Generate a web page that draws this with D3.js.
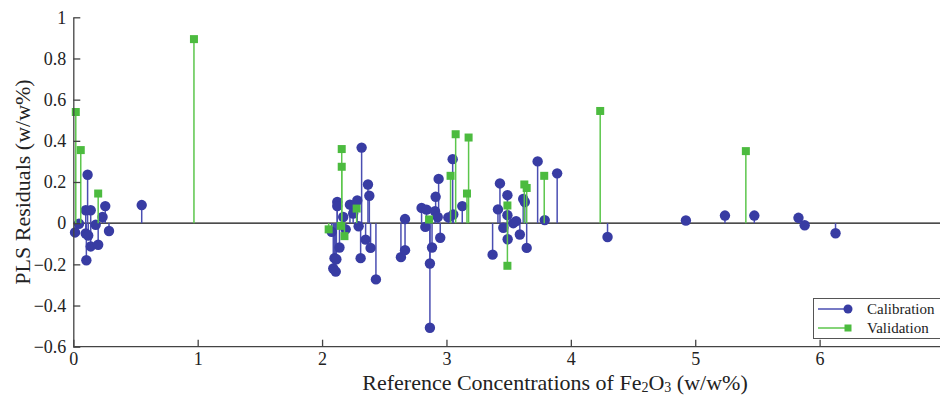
<!DOCTYPE html>
<html>
<head>
<meta charset="utf-8">
<script src="https://cdn.jsdelivr.net/npm/d3@7"></script>
<style>
  body { margin: 0; background: #fff; }
  svg { display: block; font-family: "Liberation Serif", "Times New Roman", serif; }
</style>
</head>
<body>
<svg width="940" height="396"></svg>
<script>
'use strict';

// calibration residuals (x = reference conc., y = residual)
const calX = [0.014, 0.046, 0.10, 0.115, 0.10, 0.14, 0.105, 0.12, 0.14, 0.18, 0.20, 0.235, 0.257, 0.287, 0.55,
  2.077, 2.09, 2.11, 2.10, 2.115, 2.122, 2.122, 2.14, 2.17, 2.19, 2.224, 2.25, 2.283, 2.294, 2.318, 2.31,
  2.35, 2.369, 2.38, 2.39, 2.433, 2.634, 2.667, 2.667, 2.80, 2.84, 2.83, 2.867, 2.867, 2.884, 2.908, 2.913,
  2.937, 2.93, 2.95, 3.015, 3.05, 3.055, 3.127, 3.371, 3.414, 3.43, 3.457, 3.49, 3.49, 3.492, 3.537, 3.56,
  3.59, 3.617, 3.63, 3.645, 3.733, 3.79, 3.89, 4.295, 4.925, 5.239, 5.475, 5.83, 5.88, 6.128]
const calY = [-0.045, -0.003, -0.05, 0.235, 0.063, 0.063, -0.18, -0.06, -0.113, -0.008, -0.105, 0.03, 0.083, -0.038, 0.088,
  -0.042, -0.22, -0.235, -0.17, -0.175, 0.103, 0.083, -0.118, 0.03, -0.03, 0.09, 0.047, 0.11, -0.015, 0.367, -0.17,
  -0.08, 0.188, 0.133, -0.12, -0.273, -0.165, -0.131, 0.02, 0.074, 0.066, -0.018, -0.196, -0.508, -0.118, 0.058, 0.128,
  0.215, 0.03, -0.071, 0.028, 0.311, 0.042, 0.083, -0.153, 0.067, 0.193, -0.022, 0.136, 0.039, -0.078, 0.0, 0.01,
  -0.055, 0.118, 0.103, -0.12, 0.3, 0.015, 0.242, -0.067, 0.013, 0.037, 0.037, 0.026, -0.01, -0.049]

// validation residuals
const valX = [0.02, 0.06, 0.20, 0.97, 2.053, 2.158, 2.158, 2.15, 2.18, 2.278, 2.86, 3.033, 3.074, 3.178, 3.165,
  3.49, 3.49, 3.626, 3.645, 3.786, 4.236, 5.407]
const valY = [0.54, 0.355, 0.144, 0.894, -0.03, 0.36, 0.274, -0.013, -0.063, 0.071, 0.018, 0.23, 0.432, 0.416, 0.144,
  0.086, -0.207, 0.188, 0.171, 0.23, 0.545, 0.35]

const xTicks = [0, 1, 2, 3, 4, 5, 6]
const yTicks = [-0.6, -0.4, -0.2, 0, 0.2, 0.4, 0.6, 0.8, 1]

const calColor = '#383ca3'
const calStem = '#4a4eb2'
const valColor = '#4cbb3f'
const valStem = '#5cc64c'
const serif = '"Liberation Serif", "Times New Roman", serif'

const svg = d3.select('svg')
const x = d3.scaleLinear().domain([0, 7]).range([73.3, 944])
const y = d3.scaleLinear().domain([-0.6, 1]).range([346.7, 17.3])

const cal = calX.map((v, i) => ({ x: v, y: calY[i] }))
const val = valX.map((v, i) => ({ x: v, y: valY[i] }))

// zero line
svg.append('line')
  .attr('x1', x(0)).attr('x2', 940)
  .attr('y1', y(0)).attr('y2', y(0))
  .style('stroke', '#111').style('stroke-width', 1.3)

// stems + markers
svg.append('g').selectAll('line')
  .data(cal).enter().append('line')
  .attr('x1', (d) => x(d.x)).attr('x2', (d) => x(d.x))
  .attr('y1', y(0)).attr('y2', (d) => y(d.y))
  .style('stroke', calStem).style('stroke-width', 1.5)

svg.append('g').selectAll('circle')
  .data(cal).enter().append('circle')
  .attr('cx', (d) => x(d.x)).attr('cy', (d) => y(d.y))
  .attr('r', 5.2)
  .style('fill', calColor)

svg.append('g').selectAll('line')
  .data(val).enter().append('line')
  .attr('x1', (d) => x(d.x)).attr('x2', (d) => x(d.x))
  .attr('y1', y(0)).attr('y2', (d) => y(d.y))
  .style('stroke', valStem).style('stroke-width', 1.5)

svg.append('g').selectAll('rect')
  .data(val).enter().append('rect')
  .attr('x', (d) => x(d.x) - 4).attr('y', (d) => y(d.y) - 4)
  .attr('width', 8).attr('height', 8)
  .style('fill', valColor)

// axes
const yAxis = svg.append('g')
  .attr('transform', `translate(${x(0)},0)`)
  .call(d3.axisLeft(y).tickValues(yTicks).tickFormat(d3.format('')).tickSizeInner(-7).tickSizeOuter(0).tickPadding(7))
const xAxis = svg.append('g')
  .attr('transform', `translate(0,${y(-0.6)})`)
  .call(d3.axisBottom(x).tickValues(xTicks).tickFormat(d3.format('')).tickSizeInner(-7).tickSizeOuter(0).tickPadding(6))

svg.selectAll('.domain, .tick line').style('stroke', '#444').style('stroke-width', 1.3)
yAxis.attr('font-family', serif).attr('font-size', 18)
xAxis.attr('font-family', serif).attr('font-size', 18)
svg.selectAll('.tick text').attr('fill', '#222')
xAxis.select('.domain').attr('d', `M${x(0)},0H944`)

// titles
svg.append('text')
  .attr('transform', 'translate(30,182) rotate(-90)')
  .attr('text-anchor', 'middle')
  .style('font-size', '22px').style('fill', '#222')
  .text('PLS Residuals (w/w%)')

const xt = svg.append('text')
  .attr('x', 555).attr('y', 390)
  .attr('text-anchor', 'middle')
  .style('font-size', '22px').style('fill', '#222')
xt.append('tspan').text('Reference Concentrations of Fe')
xt.append('tspan').attr('dy', 2).style('font-size', '14px').text('2')
xt.append('tspan').attr('dy', -2).text('O')
xt.append('tspan').attr('dy', 2).style('font-size', '14px').text('3')
xt.append('tspan').attr('dy', -2).text(' (w/w%)')

// legend
const lg = svg.append('g')
lg.append('rect')
  .attr('x', 813.5).attr('y', 298.5).attr('width', 140).attr('height', 40)
  .style('fill', '#fff').style('stroke', '#555').style('stroke-width', 1)
const items = [
  { name: 'Calibration', color: calStem, mark: calColor, shape: 'circle' },
  { name: 'Validation', color: valStem, mark: valColor, shape: 'square' }
]
items.forEach((it, i) => {
  const yy = 309 + i * 19
  lg.append('line')
    .attr('x1', 818).attr('x2', 848).attr('y1', yy).attr('y2', yy)
    .style('stroke', it.color).style('stroke-width', 1.5)
  if (it.shape === 'circle') {
    lg.append('circle').attr('cx', 848).attr('cy', yy).attr('r', 4.5).style('fill', it.mark)
  } else {
    lg.append('rect').attr('x', 844.5).attr('y', yy - 3.5).attr('width', 7).attr('height', 7).style('fill', it.mark)
  }
  lg.append('text')
    .attr('x', 867).attr('y', yy + 5)
    .style('font-size', '15px').style('fill', '#222')
    .text(it.name)
})
</script>
</body>
</html>
